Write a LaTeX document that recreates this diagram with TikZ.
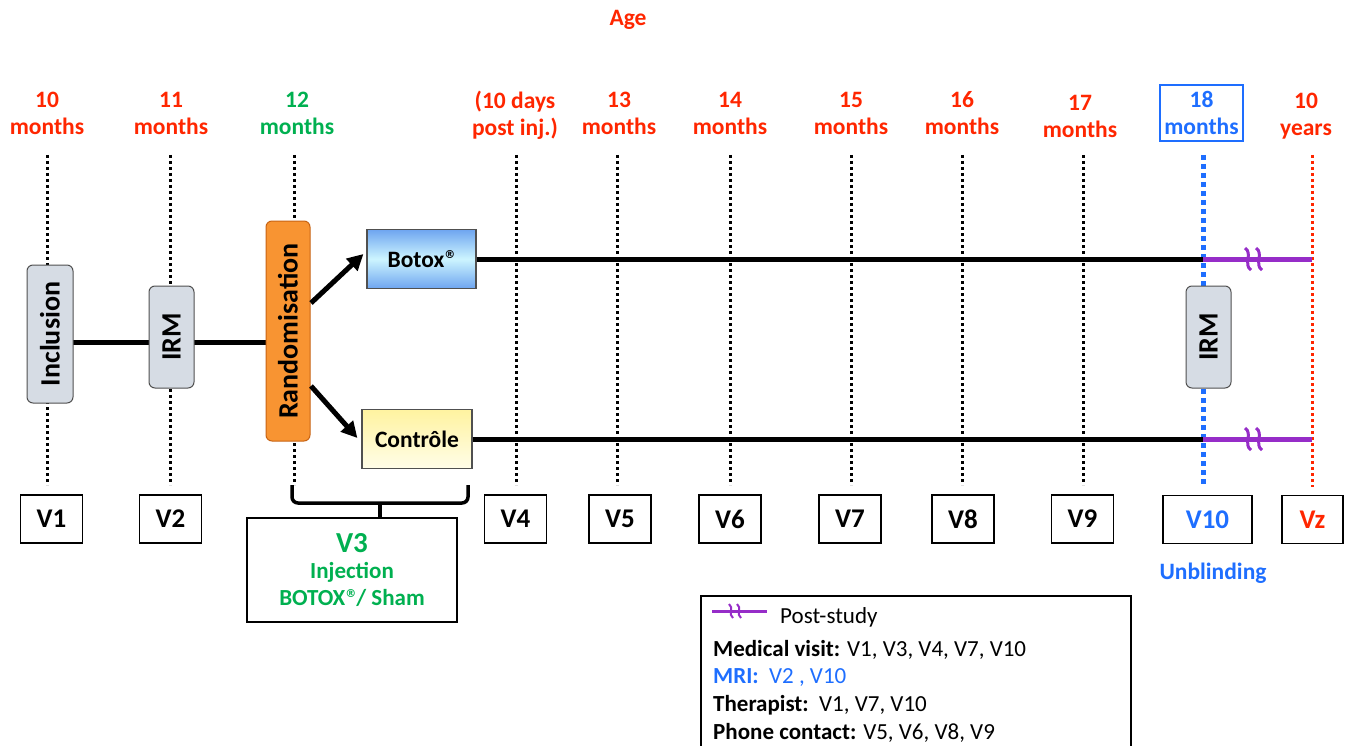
\documentclass[tikz,border=0pt]{standalone}
\usepackage{fontspec}
\setmainfont{Carlito}
\newfontfamily\regfont{DejaVu Sans}
\usetikzlibrary{arrows.meta,backgrounds}
\definecolor{agered}{RGB}{255,38,0}
\definecolor{agegreen}{RGB}{0,176,80}
\definecolor{ageblue}{RGB}{30,110,255}
\definecolor{postpurple}{RGB}{150,45,200}
\definecolor{grayfill}{RGB}{214,220,228}
\definecolor{grayline}{RGB}{80,80,80}
\definecolor{randorange}{RGB}{248,148,50}
\definecolor{randline}{RGB}{200,100,20}
\definecolor{botoxdark}{RGB}{110,165,240}
\definecolor{botoxlight}{RGB}{205,245,255}
\definecolor{ctrltop}{RGB}{255,243,160}
\definecolor{ctrlbot}{RGB}{255,253,232}
\newcommand{\regmark}{\raisebox{0.75ex}{\regfont\fontsize{11}{11}\selectfont ®}}
\tikzset{
  agelabel/.style={font=\bfseries\fontsize{23.5}{27}\selectfont, align=center, inner sep=0pt, text=agered},
  vbox/.style={draw, line width=1.5pt, minimum width=62pt, minimum height=48pt, inner sep=0pt, font=\bfseries\fontsize{27}{30}\selectfont},
  gridline/.style={line width=3pt, dash pattern=on 3pt off 3pt},
  stagebox/.style={draw=grayline, fill=grayfill, rounded corners=6pt, line width=1pt, inner sep=0pt, rotate=90, font=\bfseries\fontsize{28}{30}\selectfont},
  armbox/.style={draw=grayline, line width=1.2pt, inner sep=0pt, font=\bfseries\fontsize{23.5}{26}\selectfont},
  flow/.style={line width=5pt},
  post/.style={line width=5pt, draw=postpurple},
  breakmark/.style={line width=3pt, draw=postpurple},
  arm/.style={line width=5pt, -{Triangle[length=16pt,width=16pt]}},
  legendtext/.style={anchor=west, inner sep=0pt, font=\fontsize{23}{25}\selectfont},
}
\begin{document}
\begin{tikzpicture}[x=1pt, y=-1pt]
\useasboundingbox (0,0) rectangle (1346,746);
\clip (0,0) rectangle (1346,746);

% title
\node[agelabel] (age) at (628,20) {Age};

% top labels
\node[agelabel] (t1) at (47,113) {10\\months};
\node[agelabel] (t2) at (171,113) {11\\months};
\node[agelabel, text=agegreen] (t3) at (297,113) {12\\months};
\node[agelabel] (t4) at (515,115) {(10 days\\post inj.)};
\node[agelabel] (t5) at (619,113) {13\\months};
\node[agelabel] (t6) at (730,113) {14\\months};
\node[agelabel] (t7) at (851,113) {15\\months};
\node[agelabel] (t8) at (962,113) {16\\months};
\node[agelabel] (t9) at (1080,116) {17\\months};
\node[agelabel, text=ageblue, draw=ageblue, line width=1.2pt, minimum width=83pt, minimum height=56pt] (t10) at (1201.5,113) {18\\months};
\node[agelabel] (t11) at (1306,116) {10\\years};

% vertical time lines
\foreach \n/\x in {g1/47, g2/170, g3/294, g4/516, g5/617, g6/730, g7/851, g8/962, g9/1083} {
  \coordinate (\n top) at (\x,155);
  \coordinate (\n bot) at (\x,485);
  \draw[gridline] (\n top) -- (\n bot);
}
\coordinate (g10top) at (1203,155);
\coordinate (g10bot) at (1203,487);
\draw[line width=5pt, draw=ageblue, dash pattern=on 5pt off 4pt] (g10top) -- (g10bot);
\coordinate (g11top) at (1312,155);
\coordinate (g11bot) at (1312,487);
\draw[line width=3pt, draw=agered, dash pattern=on 3pt off 3pt] (g11top) -- (g11bot);

% stage boxes
\node[stagebox, minimum width=138pt, minimum height=46pt] (incl) at (50,334) {Inclusion};
\node[stagebox, minimum width=102pt, minimum height=45pt] (irm1) at (171.5,337) {IRM};
\node[stagebox, draw=randline, fill=randorange, minimum width=220pt, minimum height=44pt] (rand) at (288,331) {Randomisation};
\node[stagebox, minimum width=102pt, minimum height=45pt] (irm2) at (1208.5,337) {IRM};

\node[armbox, minimum width=109pt, minimum height=59pt, top color=botoxdark, bottom color=botoxdark, middle color=botoxlight] (botox) at (421.5,259) {Botox\regmark};
\node[armbox, minimum width=110pt, minimum height=59pt, top color=ctrltop, bottom color=ctrlbot] (ctrl) at (417,439) {Contrôle};

% main flow
\coordinate (mainy) at (0,342);
\begin{scope}[on background layer]
\draw[flow] (mainy -| incl.center) -- (mainy -| irm1.center);
\draw[flow] (mainy -| irm1.center) -- (mainy -| rand.center);
\end{scope}
\coordinate (botoxend) at (1203,259);
\coordinate (ctrlend) at (1203,439);
\coordinate (botoxpost) at (1312,259);
\coordinate (ctrlpost) at (1312,439);
\draw[flow] (botox.east) -- (botoxend);
\draw[flow] (ctrl.east) -- (ctrlend);
\draw[post] (botoxend) -- (botoxpost);
\draw[post] (ctrlend) -- (ctrlpost);
\foreach \y in {259,439} {
  \foreach \x in {1248,1259} {
    \draw[breakmark] (\x-3,\y-11) .. controls (\x+5,\y-6) and (\x-5,\y+6) .. (\x+3,\y+11);
  }
}

% randomisation arrows
\coordinate (a1) at (311,303);
\coordinate (a2) at (311,386);
\draw[arm] (a1) -- ([xshift=-3pt,yshift=5pt]botox.west);
\draw[arm] (a2) -- ([xshift=-4pt,yshift=1pt]ctrl.west);

% visit boxes
\node[vbox] (v1) at (51.5,519) {V1};
\node[vbox] (v2) at (170.5,519) {V2};
\node[vbox] (v4) at (515.5,519) {V4};
\node[vbox] (v5) at (620,519) {V5};
\node[vbox] (v6) at (730,519) {V6};
\node[vbox] (v7) at (850,519) {V7};
\node[vbox] (v8) at (963,519) {V8};
\node[vbox] (v9) at (1082.5,519) {V9};
\node[vbox, minimum width=89pt, text=ageblue] (v10) at (1207.5,519.5) {V10};
\node[vbox, minimum width=61pt, text=agered] (vz) at (1312.5,519.5) {Vz};
\node[agelabel, text=ageblue] (unbl) at (1213,573) {Unblinding};

% V3 box and brace
\node[draw, line width=1.5pt, minimum width=210pt, minimum height=104pt, inner sep=0pt, align=center, text=agegreen, font=\bfseries\fontsize{23}{27}\selectfont] (v3) at (352,570)
  {{\fontsize{29}{29}\selectfont V3}\\[-1pt]Injection\\BOTOX\regmark/ Sham};
\coordinate (brl) at (292,485);
\coordinate (brr) at (468,485);
\coordinate (brtip) at (380,503);
\draw[line width=3.5pt, rounded corners=6pt] (brl) |- (brtip) -| (brr);
\draw[line width=3.5pt] (brtip) -- (brtip |- v3.north);

% legend
\node[draw, line width=1.5pt, anchor=north west, minimum width=430pt, minimum height=170pt, inner sep=0pt] (legend) at (700,595) {};
\coordinate (lgs) at (712,611);
\coordinate (lge) at (767,611);
\draw[line width=3pt, draw=postpurple] (lgs) -- (lge);
\foreach \x in {731,739} {
  \draw[line width=2pt, draw=postpurple] (\x-2,604) .. controls (\x+3,607) and (\x-3,615) .. (\x+2,618);
}
\node[legendtext] (lg1) at (780,617) {Post-study};
\node[legendtext] (lg2) at (713,650) {\textbf{Medical visit:} V1, V3, V4, V7, V10};
\node[legendtext, text=ageblue] (lg3) at (713,678) {\textbf{MRI:}~~V2 , V10};
\node[legendtext] (lg4) at (713,705) {\textbf{Therapist:}~~V1, V7, V10};
\node[legendtext] (lg5) at (713,733) {\textbf{Phone contact:} V5, V6, V8, V9};
\end{tikzpicture}
\end{document}
